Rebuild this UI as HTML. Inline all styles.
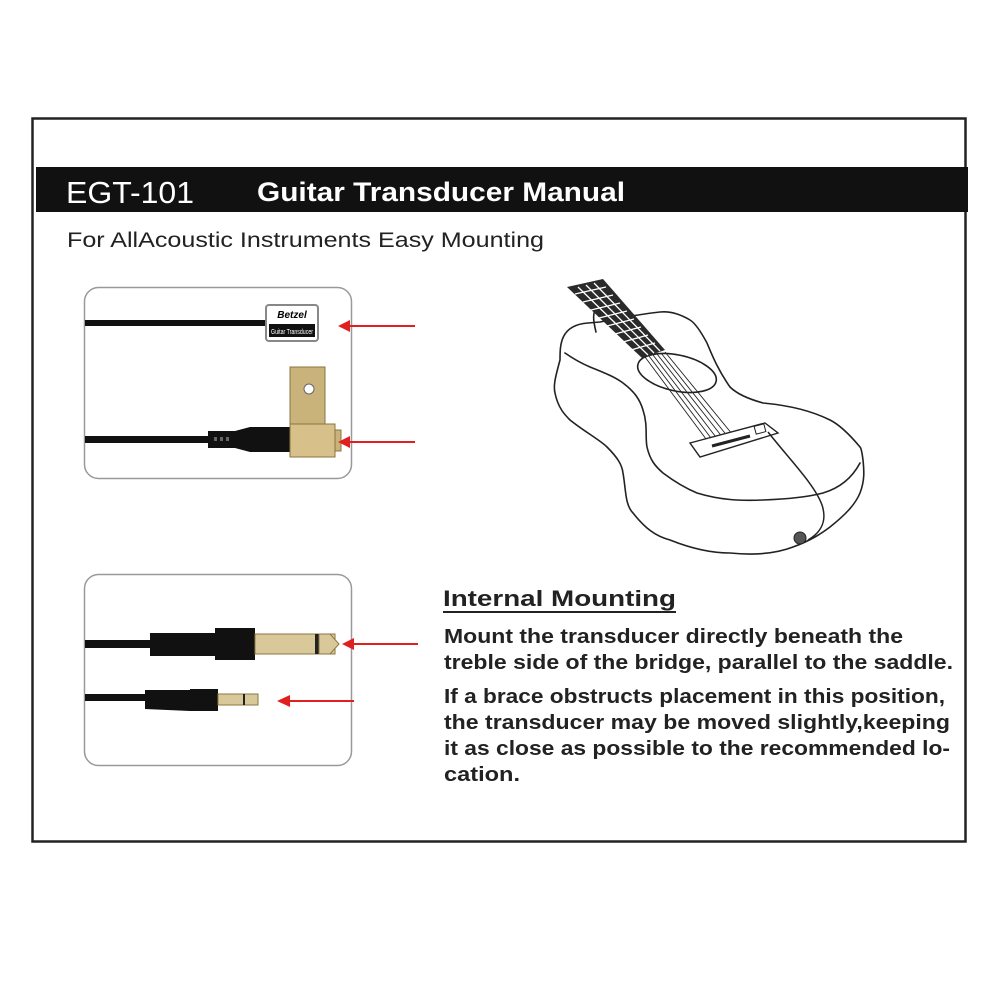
<!DOCTYPE html>
<html><head><meta charset="utf-8"><style>
html,body{margin:0;padding:0;background:#fff;}
svg{display:block;}
text{font-family:"Liberation Sans",Arial,sans-serif;}
</style></head><body>
<svg width="1000" height="1000" viewBox="0 0 1000 1000" xmlns="http://www.w3.org/2000/svg">
<rect x="0" y="0" width="1000" height="1000" fill="#fff"/>
<rect x="32.5" y="118.5" width="933" height="723" fill="none" stroke="#222" stroke-width="2.5"/>
<rect x="36" y="167" width="932" height="45" fill="#111"/>
<text x="66" y="203" font-size="31" fill="#fff" textLength="128" lengthAdjust="spacingAndGlyphs">EGT-101</text>
<text x="257" y="201" font-size="27" font-weight="bold" fill="#fff" textLength="368" lengthAdjust="spacingAndGlyphs">Guitar Transducer Manual</text>
<text x="67" y="247" font-size="21" fill="#222" textLength="477" lengthAdjust="spacingAndGlyphs">For AllAcoustic Instruments Easy Mounting</text>

<!-- panel 1 -->
<rect x="84.5" y="287.5" width="267" height="191" rx="14" fill="#fff" stroke="#999" stroke-width="1.5"/>
<rect x="85" y="320" width="182" height="6" fill="#111"/>
<rect x="266" y="305" width="52" height="36" rx="3" fill="#fff" stroke="#888" stroke-width="2"/>
<text x="292" y="318" font-size="10" font-style="italic" font-weight="bold" text-anchor="middle" font-family="Liberation Serif,serif">Betzel</text>
<rect x="269" y="324" width="46" height="13" fill="#111"/>
<text x="292" y="334" font-size="7" fill="#fff" text-anchor="middle" textLength="42" lengthAdjust="spacingAndGlyphs">Guitar Transducer</text>
<rect x="85" y="436" width="125" height="7" fill="#111"/>
<path d="M208 431 L235 431 L250 427 L292 427 L292 452 L250 452 L235 448 L208 448 Z" fill="#111"/>
<rect x="214" y="437" width="3" height="4" fill="#666"/><rect x="220" y="437" width="3" height="4" fill="#666"/><rect x="226" y="437" width="3" height="4" fill="#666"/>
<rect x="290" y="367" width="35" height="62" fill="#c9b37a" stroke="#8a7640"/>
<circle cx="309" cy="389" r="5" fill="#fff" stroke="#666"/>
<rect x="290" y="424" width="45" height="33" fill="#d7c08a" stroke="#8a7640"/>
<rect x="335" y="430" width="6" height="21" fill="#c9b37a" stroke="#8a7640"/>
<line x1="415" y1="326" x2="348" y2="326" stroke="#e02020" stroke-width="2"/>
<path d="M338 326 L350 320 L350 332 Z" fill="#e02020"/>
<line x1="415" y1="442" x2="348" y2="442" stroke="#e02020" stroke-width="2"/>
<path d="M338 442 L350 436 L350 448 Z" fill="#e02020"/>

<!-- panel 2 -->
<rect x="84.5" y="574.5" width="267" height="191" rx="14" fill="#fff" stroke="#999" stroke-width="1.5"/>
<rect x="85" y="640" width="70" height="8" fill="#111"/>
<path d="M150 633 L215 633 L215 628 L255 628 L255 660 L215 660 L215 656 L150 656 Z" fill="#111"/>
<rect x="255" y="634" width="80" height="20" fill="#d9c99a" stroke="#8a7640"/>
<rect x="315" y="634" width="4" height="20" fill="#222"/>
<path d="M319 634 L330 634 L339 644 L330 654 L319 654 Z" fill="#d9c99a" stroke="#8a7640"/>
<rect x="85" y="694" width="70" height="7" fill="#111"/>
<path d="M145 690 L190 690 L190 689 L218 689 L218 711 L190 711 L145 709 Z" fill="#111"/>
<rect x="218" y="694" width="40" height="11" fill="#d9c99a" stroke="#8a7640"/>
<rect x="243" y="694" width="2" height="11" fill="#222"/>
<line x1="418" y1="644" x2="352" y2="644" stroke="#e02020" stroke-width="2"/>
<path d="M342 644 L354 638 L354 650 Z" fill="#e02020"/>
<line x1="354" y1="701" x2="288" y2="701" stroke="#e02020" stroke-width="2"/>
<path d="M277 701 L290 695 L290 707 Z" fill="#e02020"/>

<!-- guitar -->
<g fill="none" stroke="#222" stroke-width="1.6" stroke-linecap="round" stroke-linejoin="round">
<!-- outer silhouette -->
<path d="M588 323 C 560 325 560 345 560 360 C 556 375 553 385 555 393 C 558 408 565 415 570 420 C 585 432 600 440 607 447 C 618 458 622 465 623 473 C 626 490 625 505 633 513 C 645 528 655 536 670 540 C 690 548 710 553 730 553 C 760 556 780 552 793 547 C 812 540 822 533 830 527 C 845 515 855 505 860 493 C 865 480 864 470 863 460 C 862 452 861 448 860 447 C 850 435 840 425 830 420 C 810 410 785 405 763 403 C 745 398 735 392 730 387 C 718 370 712 355 707 343 C 700 330 695 323 690 320 C 680 314 670 311 660 312 C 640 314 620 318 600 322 Z"/>
<!-- top face lower edge -->
<path d="M565 353 C 575 360 583 364 590 367 C 605 373 615 377 623 383 C 635 392 640 400 643 410 C 648 425 645 437 647 447 C 650 460 655 466 663 473 C 675 482 685 488 697 493 C 720 500 740 501 763 500 C 790 499 808 497 823 493 C 840 488 852 478 860 463"/>
<ellipse cx="677" cy="373" rx="40" ry="18" transform="rotate(12 677 373)"/>
<!-- neck heel -->
<path d="M596 332 C 593 320 592 312 598 305"/>
</g>
<!-- fretboard -->
<path d="M567 287 L603 279 L665 350 L642 358 Z" fill="#2a2a2a"/>
<g stroke="#fff" stroke-width="1.3">
<line x1="578" y1="287" x2="648" y2="355"/><line x1="586" y1="285" x2="654" y2="353"/><line x1="594" y1="283" x2="660" y2="351"/>
<line x1="575" y1="294" x2="606" y2="287"/><line x1="583" y1="302" x2="613" y2="295"/><line x1="591" y1="310" x2="620" y2="303"/><line x1="599" y1="318" x2="627" y2="311"/><line x1="607" y1="326" x2="634" y2="319"/><line x1="615" y1="334" x2="641" y2="327"/><line x1="623" y1="342" x2="648" y2="335"/><line x1="631" y1="350" x2="655" y2="343"/>
</g>
<g stroke="#222" stroke-width="0.9">
<line x1="645" y1="357" x2="712" y2="447"/><line x1="649" y1="356" x2="717" y2="446"/><line x1="653" y1="355" x2="722" y2="445"/><line x1="657" y1="354" x2="727" y2="443"/><line x1="661" y1="353" x2="732" y2="442"/><line x1="665" y1="352" x2="737" y2="440"/>
</g>
<path d="M690 443 L765 423 L778 433 L700 457 Z" fill="#fff" stroke="#222" stroke-width="1.4"/>
<path d="M712 446 L750 436" stroke="#222" stroke-width="3"/>
<rect x="755" y="425" width="10" height="8" fill="#fff" stroke="#222" stroke-width="1" transform="rotate(-15 760 429)"/>
<path d="M768 432 C 790 460 815 485 822 505 C 827 520 822 532 808 540" fill="none" stroke="#222" stroke-width="1.5"/>
<circle cx="800" cy="538" r="6" fill="#555" stroke="#222"/>

<!-- text -->
<text x="443" y="606" font-size="22" font-weight="bold" fill="#222" textLength="233" lengthAdjust="spacingAndGlyphs">Internal Mounting</text>
<line x1="443" y1="612" x2="676" y2="612" stroke="#222" stroke-width="2"/>
<g font-size="20" fill="#222" font-weight="bold">
<text x="444" y="643" textLength="459" lengthAdjust="spacingAndGlyphs">Mount the transducer directly beneath the</text>
<text x="444" y="669" textLength="509" lengthAdjust="spacingAndGlyphs">treble side of the bridge, parallel to the saddle.</text>
<text x="444" y="703" textLength="501" lengthAdjust="spacingAndGlyphs">If a brace obstructs placement in this position,</text>
<text x="444" y="729" textLength="506" lengthAdjust="spacingAndGlyphs">the transducer may be moved slightly,keeping</text>
<text x="444" y="755" textLength="506" lengthAdjust="spacingAndGlyphs">it as close as possible to the recommended lo-</text>
<text x="444" y="781" textLength="76" lengthAdjust="spacingAndGlyphs">cation.</text>
</g>
</svg>
</body></html>
